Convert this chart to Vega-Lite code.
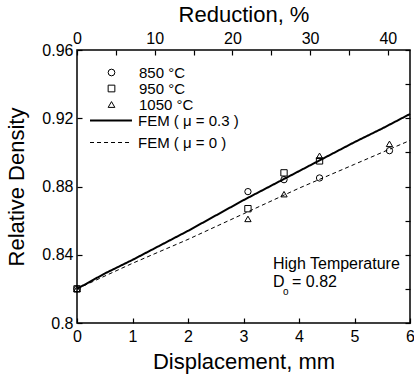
{
  "$schema": "https://vega.github.io/schema/vega-lite/v6.json",
  "width": 333,
  "height": 273,
  "autosize": {"type": "none"},
  "padding": {"left": 77, "top": 50, "right": 4, "bottom": 52},
  "background": "white",
  "config": {
    "font": "Liberation Sans",
    "view": {"stroke": "black", "strokeWidth": 1.5},
    "axis": {
      "domain": false, "grid": false, "tickColor": "black", "tickSize": -5, "tickWidth": 1.2,
      "labelColor": "black", "titleColor": "black", "labelFontSize": 16, "titleFontSize": 22,
      "titleFontWeight": "normal", "labelFont": "Liberation Sans", "titleFont": "Liberation Sans"
    },
    "legend": {"labelFont": "Liberation Sans", "labelColor": "black", "padding": 0}
  },
  "datasets": {
    "pts": [
      {"series": "850 °C", "disp": 0, "dens": 0.82},
      {"series": "850 °C", "disp": 3.08, "dens": 0.877},
      {"series": "850 °C", "disp": 3.73, "dens": 0.884},
      {"series": "850 °C", "disp": 4.37, "dens": 0.885},
      {"series": "850 °C", "disp": 5.63, "dens": 0.901},
      {"series": "950 °C", "disp": 0, "dens": 0.82},
      {"series": "950 °C", "disp": 3.08, "dens": 0.867},
      {"series": "950 °C", "disp": 3.73, "dens": 0.888},
      {"series": "950 °C", "disp": 4.37, "dens": 0.895},
      {"series": "1050 °C", "disp": 0, "dens": 0.82},
      {"series": "1050 °C", "disp": 3.08, "dens": 0.861},
      {"series": "1050 °C", "disp": 3.73, "dens": 0.8755},
      {"series": "1050 °C", "disp": 4.37, "dens": 0.898},
      {"series": "1050 °C", "disp": 5.63, "dens": 0.905}
    ],
    "fem": [
      {"model": "FEM ( μ = 0.3 )", "disp": 0, "dens": 0.82},
      {"model": "FEM ( μ = 0.3 )", "disp": 0.5, "dens": 0.829},
      {"model": "FEM ( μ = 0.3 )", "disp": 1, "dens": 0.837},
      {"model": "FEM ( μ = 0.3 )", "disp": 2, "dens": 0.854},
      {"model": "FEM ( μ = 0.3 )", "disp": 3, "dens": 0.872},
      {"model": "FEM ( μ = 0.3 )", "disp": 4, "dens": 0.889},
      {"model": "FEM ( μ = 0.3 )", "disp": 5, "dens": 0.906},
      {"model": "FEM ( μ = 0.3 )", "disp": 5.5, "dens": 0.914},
      {"model": "FEM ( μ = 0.3 )", "disp": 6, "dens": 0.9225},
      {"model": "FEM ( μ = 0 )", "disp": 0, "dens": 0.82},
      {"model": "FEM ( μ = 0 )", "disp": 1, "dens": 0.835},
      {"model": "FEM ( μ = 0 )", "disp": 2, "dens": 0.849},
      {"model": "FEM ( μ = 0 )", "disp": 3, "dens": 0.864},
      {"model": "FEM ( μ = 0 )", "disp": 4, "dens": 0.879},
      {"model": "FEM ( μ = 0 )", "disp": 5, "dens": 0.893},
      {"model": "FEM ( μ = 0 )", "disp": 6, "dens": 0.907}
    ]
  },
  "layer": [
    {
      "layer": [
        {
          "data": {"name": "fem"},
          "mark": {"type": "line", "color": "black"},
          "encoding": {
            "x": {
              "field": "disp", "type": "quantitative", "scale": {"domain": [0, 6]},
              "axis": {
                "orient": "bottom", "title": "Displacement, mm",
                "values": [0, 0.5, 1, 1.5, 2, 2.5, 3, 3.5, 4, 4.5, 5, 5.5, 6],
                "format": ".1~f", "labelExpr": "datum.value % 1 === 0 ? datum.label : ''",
                "labelPadding": 10, "titlePadding": 7, "labelFlush": false
              }
            },
            "y": {
              "field": "dens", "type": "quantitative", "scale": {"domain": [0.8, 0.96]},
              "axis": {
                "orient": "left", "title": "Relative Density",
                "values": [0.8, 0.82, 0.84, 0.86, 0.88, 0.9, 0.92, 0.94, 0.96],
                "format": ".2~f", "labelExpr": "round(datum.value * 100) % 4 === 0 ? datum.label : ''",
                "labelPadding": 9, "titlePadding": 13, "labelFlush": false
              }
            },
            "strokeDash": {
              "field": "model", "type": "nominal",
              "scale": {"domain": ["FEM ( μ = 0.3 )", "FEM ( μ = 0 )"], "range": [[1, 0], [4, 3]]},
              "legend": {
                "orient": "none", "legendX": 26.5, "legendY": 63, "title": null, "labelFontSize": 15,
                "symbolType": "M-4,0H4", "symbolSize": 110, "symbolStrokeColor": "black",
                "labelOffset": 19.5, "rowPadding": 6
              }
            },
            "strokeWidth": {
              "field": "model", "type": "nominal",
              "scale": {"domain": ["FEM ( μ = 0.3 )", "FEM ( μ = 0 )"], "range": [2, 1]},
              "legend": {
                "orient": "none", "legendX": 26.5, "legendY": 63, "title": null, "labelFontSize": 15,
                "symbolType": "M-4,0H4", "symbolSize": 110, "symbolStrokeColor": "black",
                "labelOffset": 19.5, "rowPadding": 6
              }
            }
          }
        },
        {
          "data": {"name": "pts"},
          "mark": {"type": "point", "filled": false, "color": "black", "size": 40, "strokeWidth": 1, "opacity": 1},
          "encoding": {
            "x": {"field": "disp", "type": "quantitative"},
            "y": {"field": "dens", "type": "quantitative"},
            "shape": {
              "field": "series", "type": "nominal",
              "scale": {"domain": ["850 °C", "950 °C", "1050 °C"], "range": ["circle", "square", "triangle-up"]},
              "legend": {
                "orient": "none", "legendX": 27, "legendY": 15, "title": null, "labelFontSize": 15,
                "symbolSize": 45, "symbolStrokeColor": "black", "symbolFillColor": "transparent",
                "symbolStrokeWidth": 1, "rowPadding": -0.5, "labelOffset": 20
              }
            }
          }
        },
        {
          "data": {"values": [{"note": "High Temperature"}]},
          "mark": {"type": "text", "align": "left", "baseline": "alphabetic", "fontSize": 16, "color": "black"},
          "encoding": {"x": {"datum": 3.53}, "y": {"datum": 0.8315}, "text": {"field": "note"}}
        },
        {
          "data": {"values": [{"note": "D"}]},
          "mark": {"type": "text", "align": "left", "baseline": "alphabetic", "fontSize": 16, "color": "black"},
          "encoding": {"x": {"datum": 3.53}, "y": {"datum": 0.8213}, "text": {"field": "note"}}
        },
        {
          "data": {"values": [{"note": "o"}]},
          "mark": {"type": "text", "align": "left", "baseline": "alphabetic", "fontSize": 10, "color": "black"},
          "encoding": {"x": {"datum": 3.71}, "y": {"datum": 0.8164}, "text": {"field": "note"}}
        },
        {
          "data": {"values": [{"note": "= 0.82"}]},
          "mark": {"type": "text", "align": "left", "baseline": "alphabetic", "fontSize": 16, "color": "black"},
          "encoding": {"x": {"datum": 3.874}, "y": {"datum": 0.8213}, "text": {"field": "note"}}
        }
      ]
    },
    {
      "data": {"values": [{"reduction": 0, "dens": 0.8}, {"reduction": 40, "dens": 0.96}]},
      "mark": {"type": "point", "opacity": 0},
      "encoding": {
        "x": {
          "field": "reduction", "type": "quantitative", "scale": {"domain": [0, 42.857]},
          "axis": {
            "orient": "top", "title": "Reduction, %",
            "values": [0, 5, 10, 15, 20, 25, 30, 35, 40],
            "labelExpr": "datum.value % 10 === 0 ? datum.label : ''",
            "labelPadding": 9, "titlePadding": 4, "labelFlush": false
          }
        },
        "y": {
          "field": "dens", "type": "quantitative", "scale": {"domain": [0.8, 0.96]},
          "axis": {
            "orient": "right", "title": null, "labels": false,
            "values": [0.8, 0.82, 0.84, 0.86, 0.88, 0.9, 0.92, 0.94, 0.96]
          }
        }
      }
    }
  ],
  "resolve": {"scale": {"x": "independent", "y": "independent"}}
}
